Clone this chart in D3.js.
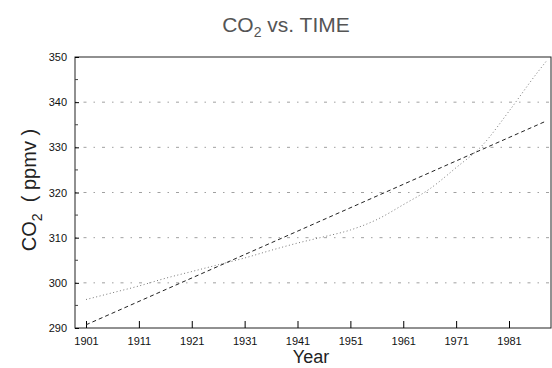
<!DOCTYPE html>
<html>
<head>
<meta charset="utf-8">
<script src="https://cdn.jsdelivr.net/npm/d3@7"></script>
<style>
  body { margin: 0; background: #fff; }
  svg { display: block; font-family: "Liberation Sans", Arial, sans-serif; }
</style>
</head>
<body>
<svg id="chart" width="552" height="368"></svg>
<script>
// CO2 record (dotted curve)
const years = [1901, 1906, 1911, 1916, 1921, 1926, 1931, 1936, 1941, 1946, 1951, 1956, 1961, 1966, 1971, 1976, 1981, 1986, 1988];
const co2 = [296.3, 297.8, 299.3, 301, 302.5, 304, 305.5, 307.2, 308.8, 310.2, 311.7, 314, 317.3, 320.8, 325.5, 330.5, 338, 346, 349];
// linear fit (dashed line), end points
const fitYears = [1901, 1988];
const fitCo2 = [290.7, 335.8];
const xTicks = [1901, 1911, 1921, 1931, 1941, 1951, 1961, 1971, 1981];
const yTicks = [290, 300, 310, 320, 330, 340, 350];
const gridVals = [300, 310, 320, 330, 340];

const svg = d3.select('#chart');
const mLeft = 75, mRight = 551, mTop = 57, mBottom = 328;

const x = d3.scaleLinear().domain([1901, 1981]).range([86, 509]);
const y = d3.scaleLinear().domain([290, 350]).range([mBottom, mTop]);

// grid
svg.append('g')
  .selectAll('line')
  .data(gridVals)
  .enter().append('line')
  .attr('x1', mLeft).attr('x2', mRight)
  .attr('y1', d => y(d)).attr('y2', d => y(d))
  .attr('stroke', '#888')
  .attr('stroke-width', 0.8)
  .attr('stroke-dasharray', '1.5,7,3,7');

// frame
svg.append('rect')
  .attr('x', mLeft).attr('y', mTop)
  .attr('width', mRight - mLeft).attr('height', mBottom - mTop)
  .attr('fill', 'none')
  .attr('stroke', '#222')
  .attr('stroke-width', 1);

// y axis ticks and labels
const yAxis = d3.axisLeft(y).tickValues(yTicks).tickSize(-4).tickPadding(8).tickFormat(d3.format('d'));
svg.append('g')
  .attr('transform', `translate(${mLeft},0)`)
  .call(yAxis)
  .call(g => g.select('.domain').remove())
  .call(g => g.selectAll('text').attr('font-size', 11).attr('fill', '#111').attr('font-family', '"Liberation Sans", Arial, sans-serif'));

// minor y ticks
svg.append('g')
  .selectAll('line')
  .data(d3.range(295, 350, 10))
  .enter().append('line')
  .attr('x1', mLeft).attr('x2', mLeft + 3)
  .attr('y1', d => y(d)).attr('y2', d => y(d))
  .attr('stroke', '#444');

// x axis
const xAxis = d3.axisBottom(x).tickValues(xTicks).tickSize(-7).tickPadding(9).tickFormat(d3.format('d'));
svg.append('g')
  .attr('transform', `translate(0,${mBottom})`)
  .call(xAxis)
  .call(g => g.select('.domain').remove())
  .call(g => g.selectAll('text').attr('font-size', 11).attr('fill', '#111').attr('font-family', '"Liberation Sans", Arial, sans-serif'));

// data curve (dotted)
const line = d3.line().x(d => x(d[0])).y(d => y(d[1])).curve(d3.curveMonotoneX);
svg.append('path')
  .datum(years.map((yr, i) => [yr, co2[i]]))
  .attr('d', line)
  .attr('fill', 'none')
  .attr('stroke', '#777')
  .attr('stroke-width', 1)
  .attr('stroke-dasharray', '1,2.5');

// fitted line (dashed)
svg.append('path')
  .datum(fitYears.map((yr, i) => [yr, fitCo2[i]]))
  .attr('d', d3.line().x(d => x(d[0])).y(d => y(d[1])))
  .attr('fill', 'none')
  .attr('stroke', '#222')
  .attr('stroke-width', 1)
  .attr('stroke-dasharray', '4,3');

// title
const title = svg.append('text')
  .attr('x', 286).attr('y', 32)
  .attr('text-anchor', 'middle')
  .attr('font-size', 21)
  .attr('fill', '#555');
title.append('tspan').text('CO');
title.append('tspan').attr('font-size', 14).attr('dy', 5).text('2');
title.append('tspan').attr('dy', -5).text(' vs. TIME');

// y label
const ylab = svg.append('text')
  .attr('transform', 'translate(36,190) rotate(-90)')
  .attr('text-anchor', 'middle')
  .attr('font-size', 20)
  .attr('fill', '#222');
ylab.append('tspan').text('CO');
ylab.append('tspan').attr('font-size', 14).attr('dy', 6).text('2');
ylab.append('tspan').attr('dy', -6).text('\u00a0\u00a0(\u00a0ppmv\u00a0)');

// x label
svg.append('text')
  .attr('x', 311).attr('y', 363)
  .attr('text-anchor', 'middle')
  .attr('font-size', 18)
  .attr('fill', '#222')
  .text('Year');
</script>
</body>
</html>
